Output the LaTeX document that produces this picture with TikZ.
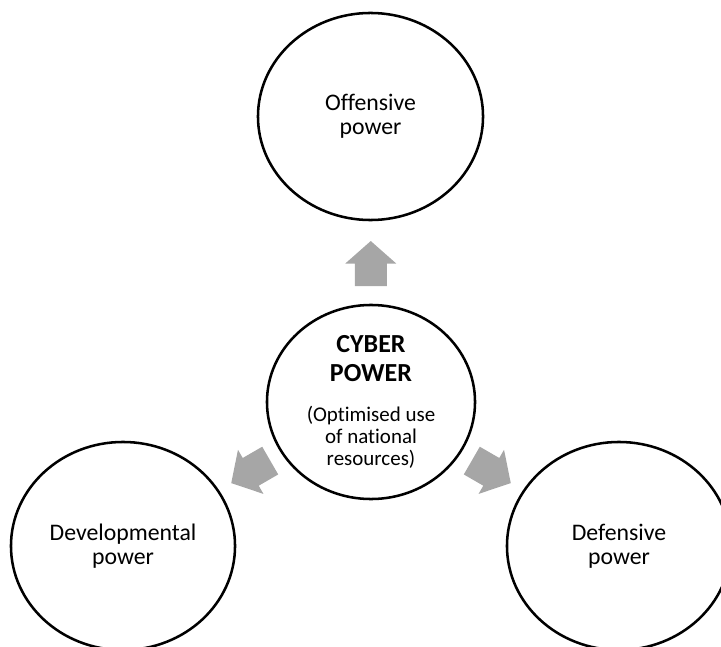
\documentclass[tikz,border=0pt]{standalone}
\usepackage{fontspec}
\setmainfont[Ligatures=NoCommon]{Carlito}
\usetikzlibrary{shapes.geometric}
\usetikzlibrary{calc}

\definecolor{arrowgrey}{RGB}{166,166,166}
\newcommand{\coretitle}{\bfseries\fontsize{18.5}{20.6}\selectfont}

\tikzset{
	powercircle/.style={ellipse, draw=black, line width=1.8pt, inner sep=0pt, align=center, font=\fontsize{16.9}{17.1}\selectfont},
}

\begin{document}
\begin{tikzpicture}[x=0.025cm, y=0.025cm]
	% page frame
	\useasboundingbox (0,0) rectangle (721,646);

	% the four circles
	\node[powercircle, minimum width=5.625cm, minimum height=5.175cm] (offence) at (370.5,529.5) {Offensive\\power};
	\node[powercircle, minimum width=5.2cm, minimum height=4.85cm, font=\fontsize{14.9}{15.6}\selectfont] (core) at (371,244)
		{{\coretitle CYBER}\\[5pt]{\coretitle POWER}\\[13pt](Optimised use\\of national\\resources)};
	\node[powercircle, minimum width=5.6cm, minimum height=5.2cm] (develop) at (123,100) {Developmental\\power};
	\node[powercircle, minimum width=5.6cm, minimum height=5.2cm] (defence) at (619,100) {Defensive\\power};

	% block arrows pointing out of the centre
	\foreach \target/\ang in {offence/90, develop/210, defence/330} {
		\begin{scope}[shift={($(core)!0.485!(\target)$)}, rotate=\ang]
			\fill[arrowgrey] (-22.5,-16) -- (0,-16) -- (0,-25.5) -- (22.5,0) -- (0,25.5) -- (0,16) -- (-22.5,16) -- cycle;
		\end{scope}
	}
\end{tikzpicture}
\end{document}
